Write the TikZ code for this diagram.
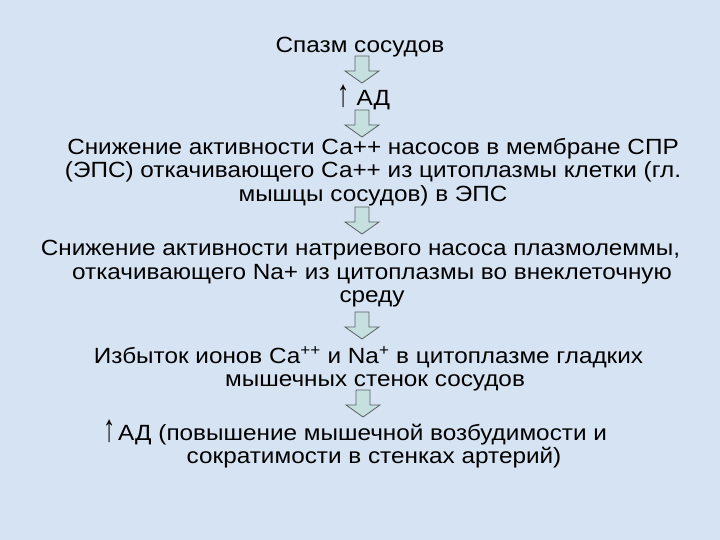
\documentclass[tikz,border=0pt]{standalone}
\usepackage{fontspec}
\usepackage{graphicx}
\setmainfont[FakeStretch=1.105]{Liberation Sans}
\definecolor{slidebg}{RGB}{214,227,243}
\definecolor{arrfill}{RGB}{198,224,224}
\definecolor{arrline}{RGB}{90,96,100}
\newcommand{\uparr}{\raisebox{-1pt}{\scalebox{1}[1.75]{↑}}}
\tikzset{
  txt/.style={align=center, font=\fontsize{22}{23.5}\selectfont, inner sep=0pt},
  downarr/.pic={\draw[draw=arrline, fill=arrfill, line width=0.8pt]
    (-7,0) -- (7,0) -- (7,15) -- (17,15) -- (0,27) -- (-17,15) -- (-7,15) -- cycle;}
}
\begin{document}
\begin{tikzpicture}[x=1pt,y=-1pt]
  \fill[slidebg] (0,0) rectangle (720,540);
  \useasboundingbox (0,0) rectangle (720,540);

  \node[txt] (spasm) at (360,47) {Спазм сосудов};
  \pic (a1) at (362,56) {downarr};
  \node[txt] (ad) at (364,97) {\uparr\ АД};
  \pic (a2) at (362,110) {downarr};
  \node[txt] (ca) at (373,172) {Снижение активности Са++ насосов в мембране СПР\\
    (ЭПС) откачивающего Са++ из цитоплазмы клетки (гл.\\
    мышцы сосудов) в ЭПС};
  \pic (a3) at (362,207) {downarr};
  \node[txt] (na) at (372,274) {Снижение активности натриевого насоса плазмолеммы,\hspace*{23pt}\\
    откачивающего Na+ из цитоплазмы во внеклеточную\\
    среду};
  \pic (a4) at (362,312) {downarr};
  \node[txt] (ions) at (375,369) {Избыток ионов Са\textsuperscript{++} и Na\textsuperscript{+} в цитоплазме гладких\hspace*{13pt}\\
    мышечных стенок сосудов};
  \pic (a5) at (363,390) {downarr};
  \node[txt] (adup) at (374,444) {\uparr\hspace{3pt}АД (повышение мышечной возбудимости и\hspace*{38pt}\\
    сократимости в стенках артерий)};
\end{tikzpicture}
\end{document}
